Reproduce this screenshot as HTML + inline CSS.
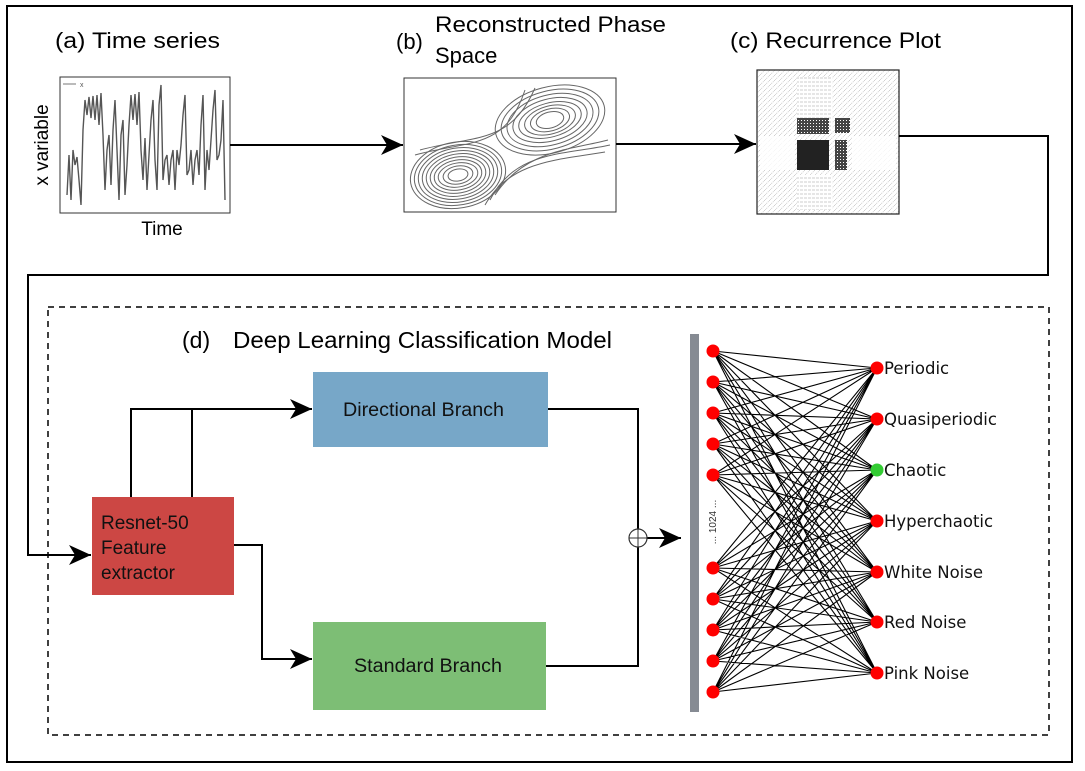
<!DOCTYPE html>
<html><head><meta charset="utf-8"><style>
html,body{margin:0;padding:0;background:#fff}
svg{display:block;font-family:"Liberation Sans",sans-serif}
</style></head><body>
<svg width="1085" height="771" viewBox="0 0 1085 771" xmlns="http://www.w3.org/2000/svg">
<defs>
<marker id="ab" markerWidth="24" markerHeight="20" refX="22" refY="10" orient="auto" markerUnits="userSpaceOnUse">
<path d="M0,0 L22,10 L0,20 L6,10 z" fill="#000"/></marker>
<pattern id="hatch" width="5" height="5" patternUnits="userSpaceOnUse">
<path d="M0,5 L5,0" stroke="#aaa" stroke-width="0.6" stroke-dasharray="1,1"/></pattern>
<pattern id="hl" width="4" height="4" patternUnits="userSpaceOnUse">
<path d="M0,2 L3,2" stroke="#aaa" stroke-width="0.6"/></pattern>
<pattern id="dk" width="3" height="3" patternUnits="userSpaceOnUse">
<rect width="3" height="3" fill="#444"/><rect width="1" height="1" fill="#fff"/></pattern>
</defs>
<rect x="7" y="6" width="1065" height="756" fill="none" stroke="#000" stroke-width="2"/>

<!-- (a) -->
<text x="55" y="48" font-size="22" textLength="165" lengthAdjust="spacingAndGlyphs">(a)  Time series</text>
<rect x="60" y="77" width="170" height="136" fill="#fff" stroke="#333" stroke-width="1"/>
<line x1="63" y1="84" x2="76" y2="84" stroke="#777"/><text x="80" y="87" font-size="7" fill="#555">x</text>
<polyline fill="none" stroke="#555" stroke-width="1.4" points="
67,195 69,155 71,200 73,150 75,165 77,157 79,180 81,205 83,130 85,100 87,115 89,97 91,118 93,96 95,120 97,95 99,125 101,93 103,135 105,190 107,150 109,135 111,185 113,130 115,100 117,150 119,200 121,135 123,120 125,195 127,165 129,125 131,95 133,120 135,94 137,125 139,92 141,150 143,180 145,138 147,190 149,155 151,120 153,100 155,160 157,190 159,105 161,85 163,180 165,160 167,155 169,185 171,160 173,150 175,190 177,150 179,165 181,145 183,115 185,95 187,175 189,170 191,150 193,185 195,160 197,150 199,175 201,125 203,95 205,190 207,150 209,170 211,140 213,110 215,90 217,160 219,155 221,140 223,100 225,200"/>
<text x="48" y="145" font-size="19" transform="rotate(-90 48 145)" text-anchor="middle">x variable</text>
<text x="162" y="235" font-size="19" text-anchor="middle">Time</text>

<!-- (b) -->
<text x="396" y="49" font-size="22">(b)</text>
<text x="435" y="32" font-size="22" textLength="231" lengthAdjust="spacingAndGlyphs">Reconstructed Phase</text>
<text x="435" y="63" font-size="22">Space</text>
<rect x="404" y="78" width="212" height="134" fill="#fff" stroke="#333" stroke-width="1"/>
<g fill="none" stroke="#666" stroke-width="1">
<ellipse cx="458" cy="175" rx="48" ry="33" transform="rotate(-10 458 175)"/>
<ellipse cx="458" cy="175" rx="44" ry="30" transform="rotate(-10 458 175)"/>
<ellipse cx="458" cy="175" rx="40" ry="27" transform="rotate(-10 458 175)"/>
<ellipse cx="458" cy="175" rx="36" ry="24" transform="rotate(-10 458 175)"/>
<ellipse cx="458" cy="175" rx="32" ry="21" transform="rotate(-10 458 175)"/>
<ellipse cx="458" cy="175" rx="28" ry="18" transform="rotate(-10 458 175)"/>
<ellipse cx="458" cy="175" rx="24" ry="15" transform="rotate(-10 458 175)"/>
<ellipse cx="458" cy="175" rx="20" ry="12" transform="rotate(-10 458 175)"/>
<ellipse cx="458" cy="175" rx="15" ry="9" transform="rotate(-10 458 175)"/>
<ellipse cx="458" cy="175" rx="10" ry="6" transform="rotate(-10 458 175)"/>
<ellipse cx="550" cy="120" rx="56" ry="33" transform="rotate(-15 550 120)"/>
<ellipse cx="550" cy="120" rx="50" ry="29" transform="rotate(-15 550 120)"/>
<ellipse cx="550" cy="120" rx="44" ry="25" transform="rotate(-15 550 120)"/>
<ellipse cx="550" cy="120" rx="38" ry="21" transform="rotate(-15 550 120)"/>
<ellipse cx="550" cy="120" rx="32" ry="17" transform="rotate(-15 550 120)"/>
<ellipse cx="550" cy="120" rx="26" ry="14" transform="rotate(-15 550 120)"/>
<ellipse cx="550" cy="120" rx="20" ry="11" transform="rotate(-15 550 120)"/>
<ellipse cx="550" cy="120" rx="14" ry="8" transform="rotate(-15 550 120)"/>
<path d="M415,155 C470,140 505,150 525,90"/>
<path d="M420,150 C475,135 510,145 535,88"/>
<path d="M490,200 C515,150 565,155 610,145"/>
<path d="M495,195 C525,150 570,150 608,140"/>
<path d="M485,205 C510,160 560,160 605,152"/>
</g>
<!-- (c) -->
<text x="730" y="48" font-size="22" textLength="211" lengthAdjust="spacingAndGlyphs">(c)  Recurrence Plot</text>
<rect x="757" y="70" width="142" height="144" fill="url(#hatch)" stroke="#222" stroke-width="1.2"/>
<rect x="797" y="77" width="35" height="55" fill="#fff"/>
<rect x="797" y="77" width="35" height="55" fill="url(#hl)"/>
<rect x="797" y="118" width="32" height="16" fill="url(#dk)"/>
<rect x="797" y="140" width="32" height="30" fill="#222"/>
<rect x="835" y="140" width="12" height="30" fill="url(#dk)"/>
<rect x="835" y="118" width="15" height="15" fill="url(#dk)"/>
<rect x="760" y="136" width="35" height="34" fill="#fff" opacity="0.8"/>
<rect x="852" y="136" width="44" height="34" fill="#fff" opacity="0.8"/>
<rect x="797" y="175" width="35" height="35" fill="#fff"/>
<rect x="797" y="175" width="35" height="35" fill="url(#hl)"/>

<!-- connectors top -->
<line x1="230" y1="145" x2="403" y2="145" stroke="#000" stroke-width="2" marker-end="url(#ab)"/>
<line x1="616" y1="144" x2="756" y2="144" stroke="#000" stroke-width="2" marker-end="url(#ab)"/>
<polyline points="899,136 1048,136 1048,275 28,275 28,555 91,555" fill="none" stroke="#000" stroke-width="2" marker-end="url(#ab)"/>

<!-- (d) -->
<rect x="48" y="307" width="1001" height="428" fill="none" stroke="#000" stroke-width="1.5" stroke-dasharray="6,5"/>
<text x="182" y="348" font-size="23">(d)</text>
<text x="233" y="348" font-size="23" textLength="379" lengthAdjust="spacingAndGlyphs">Deep Learning Classification Model</text>

<rect x="92" y="497" width="142" height="98" fill="#cc4744"/>
<text font-size="19" fill="#111"><tspan x="101" y="529">Resnet-50</tspan><tspan x="101" y="554">Feature</tspan><tspan x="101" y="579">extractor</tspan></text>
<rect x="313" y="372" width="235" height="75" fill="#77a7c8"/>
<text x="343" y="416" font-size="19" textLength="161" lengthAdjust="spacingAndGlyphs" fill="#111">Directional Branch</text>
<rect x="313" y="622" width="233" height="88" fill="#7dbe75"/>
<text x="354" y="672" font-size="19" textLength="148" lengthAdjust="spacingAndGlyphs" fill="#111">Standard Branch</text>

<g fill="none" stroke="#000" stroke-width="2">
<polyline points="131,497 131,409 312,409" marker-end="url(#ab)"/>
<line x1="192" y1="497" x2="192" y2="409"/>
<polyline points="234,545 262,545 262,659 312,659" marker-end="url(#ab)"/>
<polyline points="548,409 638,409 638,666 546,666"/>
<line x1="647" y1="538" x2="681" y2="538" marker-end="url(#ab)"/>
</g>
<circle cx="638" cy="538" r="9" fill="#fff" stroke="#333" stroke-width="1.2"/>
<line x1="629" y1="538" x2="647" y2="538" stroke="#333"/><line x1="638" y1="529" x2="638" y2="547" stroke="#333"/>

<!-- NN -->
<rect x="690" y="334" width="9" height="378" fill="#868b93"/>
<text x="716" y="522" font-size="10" transform="rotate(-90 716 522)" text-anchor="middle" fill="#333">... 1024 ...</text>
<g font-size="16.5" fill="#111" font-family="DejaVu Sans, sans-serif">
<text x="884" y="374">Periodic</text>
<text x="884" y="425">Quasiperiodic</text>
<text x="884" y="476">Chaotic</text>
<text x="884" y="527">Hyperchaotic</text>
<text x="884" y="578">White Noise</text>
<text x="884" y="628">Red Noise</text>
<text x="884" y="679">Pink Noise</text>
</g>
<g stroke="#000" stroke-width="1.1">
<path d="M713,351L877,368M713,351L877,419M713,351L877,470M713,351L877,521M713,351L877,572M713,351L877,622M713,351L877,673
M713,382L877,368M713,382L877,419M713,382L877,470M713,382L877,521M713,382L877,572M713,382L877,622M713,382L877,673
M713,413L877,368M713,413L877,419M713,413L877,470M713,413L877,521M713,413L877,572M713,413L877,622M713,413L877,673
M713,444L877,368M713,444L877,419M713,444L877,470M713,444L877,521M713,444L877,572M713,444L877,622M713,444L877,673
M713,475L877,368M713,475L877,419M713,475L877,470M713,475L877,521M713,475L877,572M713,475L877,622M713,475L877,673
M713,568L877,368M713,568L877,419M713,568L877,470M713,568L877,521M713,568L877,572M713,568L877,622M713,568L877,673
M713,599L877,368M713,599L877,419M713,599L877,470M713,599L877,521M713,599L877,572M713,599L877,622M713,599L877,673
M713,630L877,368M713,630L877,419M713,630L877,470M713,630L877,521M713,630L877,572M713,630L877,622M713,630L877,673
M713,661L877,368M713,661L877,419M713,661L877,470M713,661L877,521M713,661L877,572M713,661L877,622M713,661L877,673
M713,692L877,368M713,692L877,419M713,692L877,470M713,692L877,521M713,692L877,572M713,692L877,622M713,692L877,673" fill="none"/>
</g>
<g fill="#f00">
<circle cx="713" cy="351" r="6.5"/><circle cx="713" cy="382" r="6.5"/><circle cx="713" cy="413" r="6.5"/><circle cx="713" cy="444" r="6.5"/><circle cx="713" cy="475" r="6.5"/>
<circle cx="713" cy="568" r="6.5"/><circle cx="713" cy="599" r="6.5"/><circle cx="713" cy="630" r="6.5"/><circle cx="713" cy="661" r="6.5"/><circle cx="713" cy="692" r="6.5"/>
<circle cx="877" cy="368" r="6.5"/><circle cx="877" cy="419" r="6.5"/><circle cx="877" cy="470" r="6.5" fill="#33cc33"/><circle cx="877" cy="521" r="6.5"/><circle cx="877" cy="572" r="6.5"/><circle cx="877" cy="622" r="6.5"/><circle cx="877" cy="673" r="6.5"/>
</g>
</svg>
</body></html>
